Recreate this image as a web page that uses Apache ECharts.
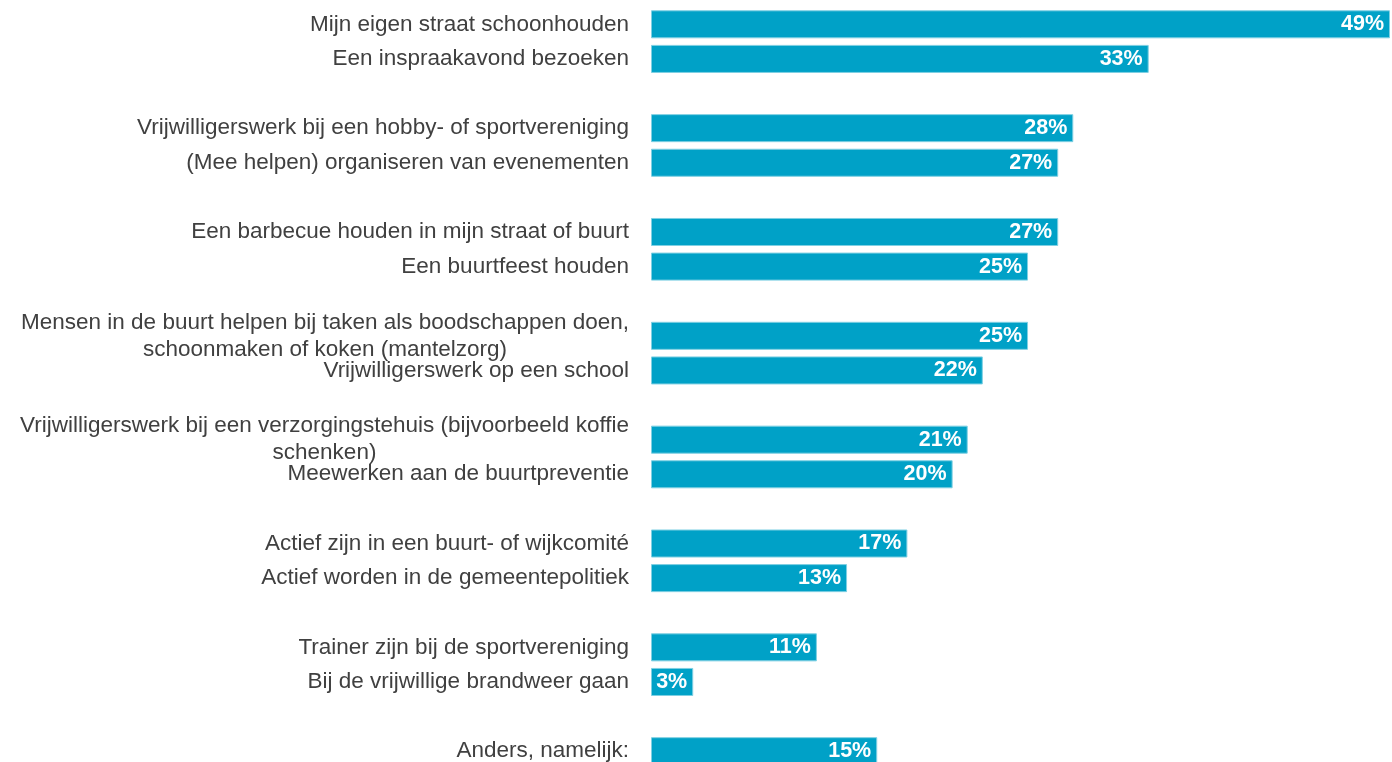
<!DOCTYPE html>
<html>
<head>
<meta charset="utf-8">
<script src="https://cdn.jsdelivr.net/npm/echarts@6/dist/echarts.min.js"></script>
<style>
	html, body { margin: 0; padding: 0; background: #fff; overflow: hidden; }
	/* the last bar runs past the bottom edge, so the canvas is a bit taller than the window */
	#chart { width: 1392px; height: 770px; }
</style>
</head>
<body>
<div id="chart"></div>
<script>
// answers, top to bottom
var labels = [
	'Mijn eigen straat schoonhouden',
	'Een inspraakavond bezoeken',
	'Vrijwilligerswerk bij een hobby- of sportvereniging',
	'(Mee helpen) organiseren van evenementen',
	'Een barbecue houden in mijn straat of buurt',
	'Een buurtfeest houden',
	'Mensen in de buurt helpen bij taken als boodschappen doen,\nschoonmaken of koken (mantelzorg)',
	'Vrijwilligerswerk op een school',
	'Vrijwilligerswerk bij een verzorgingstehuis (bijvoorbeeld koffie\nschenken)',
	'Meewerken aan de buurtpreventie',
	'Actief zijn in een buurt- of wijkcomité',
	'Actief worden in de gemeentepolitiek',
	'Trainer zijn bij de sportvereniging',
	'Bij de vrijwillige brandweer gaan',
	'Anders, namelijk:'
];
var values = [49, 33, 28, 27, 27, 25, 25, 22, 21, 20, 17, 13, 11, 2.8, 15];
// bars per block, an empty row sits between blocks
var groupSizes = [2, 2, 2, 2, 2, 2, 2, 1];

var categories = [], data = [];
var k = 0;
groupSizes.forEach(function(n, g) {
	if (g > 0) {
		categories.push(' '.repeat(g)); // spacer
		data.push('-');
	}
	for (var i = 0; i < n; i++) {
		categories.push(labels[k]);
		data.push(values[k]);
		k++;
	}
});

var textColor = '#404040';
var font = 'Liberation Sans, Arial, sans-serif';

var myChart = echarts.init(document.getElementById('chart'));
var option = {
	animation : false,
	grid : {
		left : 651,
		right : 2,
		top : 7,
		height : 761.5
	},
	xAxis : {
		type : 'value',
		min : 0,
		max : 49,
		show : false
	},
	yAxis : {
		type : 'category',
		inverse : true,
		data : categories,
		axisLine : { show : false },
		axisTick : { show : false },
		axisLabel : {
			interval : 0,
			margin : 22,
			fontSize : 22.5,
			fontFamily : font,
			color : textColor,
			lineHeight : 27,
			formatter : function(v) {
				if (!v.trim()) return '';
				if (v.indexOf('\n') < 0) return v;
				return v.split('\n').map(function(l) {
					return '{c|' + l + '}';
				}).join('\n');
			},
			rich : {
				c : {
					align : 'center',
					fontSize : 22.5,
					fontFamily : font,
					color : textColor,
					lineHeight : 27
				}
			}
		}
	},
	series : [ {
		type : 'bar',
		data : data,
		barCategoryGap : '19%',
		itemStyle : {
			color : '#00a1c7',
			borderColor : '#7fd0e3',
			borderWidth : 1
		},
		label : {
			show : true,
			position : 'insideRight',
			distance : 6,
			color : '#fff',
			fontSize : 21.5,
			fontWeight : 'bold',
			fontFamily : font,
			formatter : function(p) {
				return Math.round(p.value) + '%';
			}
		}
	} ]
};
myChart.setOption(option);
</script>
</body>
</html>
